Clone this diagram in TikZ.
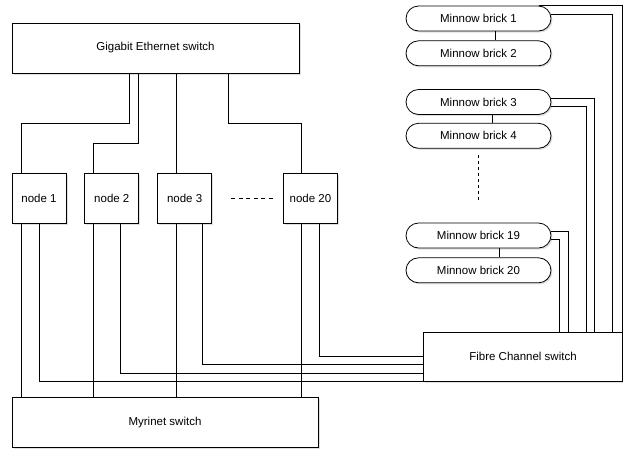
\documentclass[tikz,border=0pt]{standalone}
\usepackage{fontspec}
\setmainfont{Liberation Sans}
\usetikzlibrary{positioning,shapes.misc,shadows}

\begin{document}
\begin{tikzpicture}[
  x=1pt, y=-1pt,
  font=\fontsize{11.5}{13}\selectfont,
  line width=0.8pt,
  box/.style={draw, fill=white, inner sep=0pt, drop shadow={shadow xshift=1.5pt, shadow yshift=-1.5pt, opacity=0.25}},
  switchbox/.style={box, minimum height=50pt},
  pc/.style={box, minimum width=54pt, minimum height=50pt},
  brick/.style={box, rounded rectangle, minimum width=145pt, minimum height=25pt},
  gap/.style={dash pattern=on 4pt off 3.5pt}
]
  \useasboundingbox (0,0) rectangle (623,448);

  \node[switchbox, minimum width=287pt] (gbe) at (155.5,48) {Gigabit Ethernet switch};
  \node[pc] (n1) at (39,198) {node 1};
  \node[pc, right=18pt of n1] (n2) {node 2};
  \node[pc, right=18pt of n2] (n3) {node 3};
  \node[pc, right=71pt of n3] (n20) {node 20};
  \node[switchbox, minimum width=306pt] (myr) at (165,422.5) {Myrinet switch};
  \node[switchbox, minimum width=199pt, minimum height=49pt] (fc) at (523,356.5) {Fibre Channel switch};

  \node[brick] (b1) at (478.5,18.5) {Minnow brick 1};
  \node[brick, below=9pt of b1] (b2) {Minnow brick 2};
  \node[brick] (b3) at (478.5,102) {Minnow brick 3};
  \node[brick, below=8pt of b3] (b4) {Minnow brick 4};
  \node[brick] (b19) at (478.5,235.5) {Minnow brick 19};
  \node[brick, below=9pt of b19] (b20) {Minnow brick 20};

  \draw ([xshift=-26.5pt]gbe.south) -- ++(0,50) -| ([xshift=-18pt]n1.north);
  \draw ([xshift=-17.5pt]gbe.south) -- ++(0,70) -| ([xshift=-18pt]n2.north);
  \draw ([xshift=-8.5pt]n3.north |- gbe.south) -- ([xshift=-8.5pt]n3.north);
  \draw ([xshift=72.5pt]gbe.south) -- ++(0,50) -| ([xshift=-9pt]n20.north);
  \draw[gap] ([xshift=19pt]n3.east) -- ([xshift=-10pt]n20.west);

  \draw ([xshift=-18pt]n1.south) -- ([xshift=-18pt]n1.south |- myr.north);
  \draw (n1.south) |- (fc.south west);
  \draw ([xshift=-18pt]n2.south) -- ([xshift=-18pt]n2.south |- myr.north);
  \draw ([xshift=9pt]n2.south) |- ([yshift=8.5pt]fc.south west);
  \draw ([xshift=-8.5pt]n3.south) -- ([xshift=-8.5pt]n3.south |- myr.north);
  \draw ([xshift=17.5pt]n3.south) |- ([yshift=17pt]fc.south west);
  \draw ([xshift=-9pt]n20.south) -- ([xshift=-9pt]n20.south |- myr.north);
  \draw ([xshift=9pt]n20.south) |- ([yshift=25pt]fc.south west);

  \draw ([xshift=16.5pt]b1.south) -- ([xshift=16.5pt]b2.north);
  \draw ([xshift=13.5pt]b3.south) -- ([xshift=13.5pt]b4.north);
  \draw ([xshift=20.5pt]b19.south) -- ([xshift=20.5pt]b20.north);
  \draw[dash pattern=on 3pt off 3pt] ([yshift=-6pt]b4.south) -- ([yshift=20pt]b19.north);

  \draw (b1.north east) -| ([xshift=-1pt]fc.north east);
  \draw ([yshift=4.5pt]b1.east) -| ([xshift=-11pt]fc.north east);
  \draw ([yshift=4pt]b3.east) -| ([xshift=-28.5pt]fc.north east);
  \draw ([yshift=-4pt]b3.east) -| ([xshift=-37pt]fc.north east);
  \draw ([yshift=4pt]b19.east) -| ([xshift=-55pt]fc.north east);
  \draw ([yshift=-3.5pt]b19.east) -| ([xshift=-64pt]fc.north east);
\end{tikzpicture}
\end{document}
